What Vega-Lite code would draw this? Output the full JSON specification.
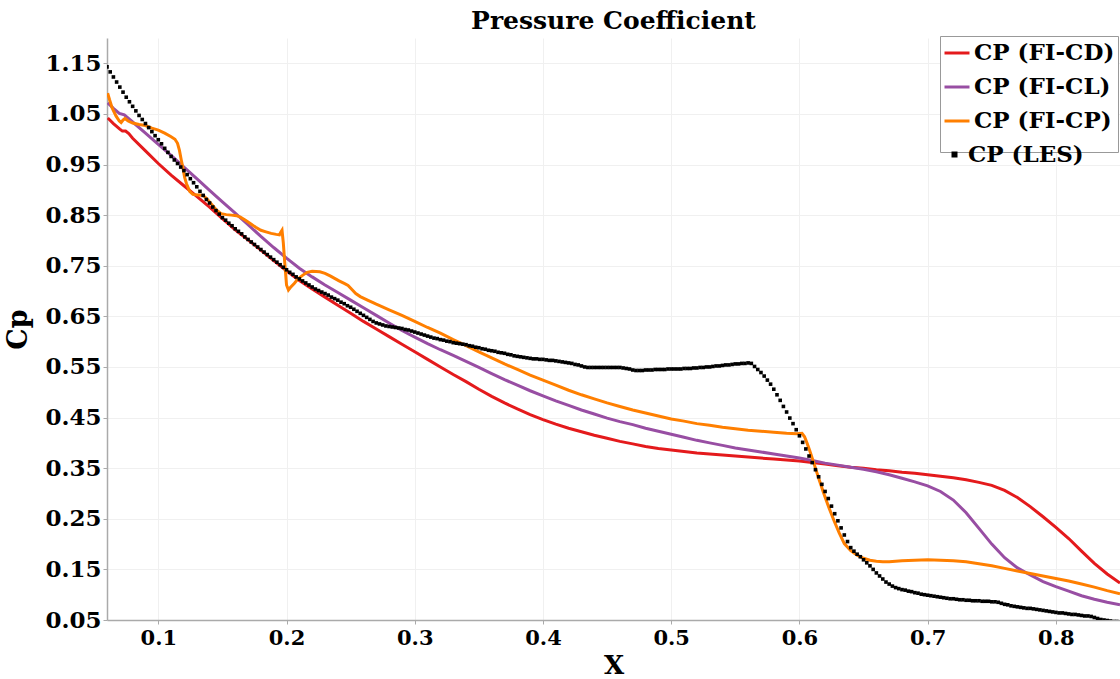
{
"$schema":"https://vega.github.io/schema/vega-lite/v6.json",
"width":1013,"height":582,
"autosize":"none",
"padding":{"left":107,"top":38,"right":0,"bottom":59},
"background":"white",
"title":{"text":"Pressure Coefficient","font":"DejaVu Serif","fontSize":25,"fontWeight":"bold","color":"black","anchor":"middle","offset":2},
"datasets":{
"fi":[
{"series":"CP (FI-CD)","x":0.0606,"cp":1.042},{"series":"CP (FI-CD)","x":0.065,"cp":1.031},{"series":"CP (FI-CD)","x":0.07,"cp":1.020},{"series":"CP (FI-CD)","x":0.072,"cp":1.016},{"series":"CP (FI-CD)","x":0.0745,"cp":1.016},{"series":"CP (FI-CD)","x":0.077,"cp":1.011},{"series":"CP (FI-CD)","x":0.08,"cp":1.002},{"series":"CP (FI-CD)","x":0.09,"cp":0.977},{"series":"CP (FI-CD)","x":0.10,"cp":0.952},{"series":"CP (FI-CD)","x":0.11,"cp":0.929},{"series":"CP (FI-CD)","x":0.12,"cp":0.908},{"series":"CP (FI-CD)","x":0.13,"cp":0.887},{"series":"CP (FI-CD)","x":0.14,"cp":0.866},{"series":"CP (FI-CD)","x":0.15,"cp":0.843},{"series":"CP (FI-CD)","x":0.16,"cp":0.821},{"series":"CP (FI-CD)","x":0.17,"cp":0.801},{"series":"CP (FI-CD)","x":0.18,"cp":0.781},{"series":"CP (FI-CD)","x":0.19,"cp":0.760},{"series":"CP (FI-CD)","x":0.20,"cp":0.740},{"series":"CP (FI-CD)","x":0.21,"cp":0.721},{"series":"CP (FI-CD)","x":0.22,"cp":0.704},{"series":"CP (FI-CD)","x":0.23,"cp":0.688},{"series":"CP (FI-CD)","x":0.24,"cp":0.672},{"series":"CP (FI-CD)","x":0.25,"cp":0.656},{"series":"CP (FI-CD)","x":0.26,"cp":0.640},{"series":"CP (FI-CD)","x":0.27,"cp":0.625},{"series":"CP (FI-CD)","x":0.28,"cp":0.610},{"series":"CP (FI-CD)","x":0.29,"cp":0.595},{"series":"CP (FI-CD)","x":0.30,"cp":0.580},{"series":"CP (FI-CD)","x":0.31,"cp":0.565},{"series":"CP (FI-CD)","x":0.32,"cp":0.550},{"series":"CP (FI-CD)","x":0.33,"cp":0.535},{"series":"CP (FI-CD)","x":0.34,"cp":0.521},{"series":"CP (FI-CD)","x":0.35,"cp":0.506},{"series":"CP (FI-CD)","x":0.36,"cp":0.492},{"series":"CP (FI-CD)","x":0.37,"cp":0.479},{"series":"CP (FI-CD)","x":0.38,"cp":0.467},{"series":"CP (FI-CD)","x":0.39,"cp":0.456},{"series":"CP (FI-CD)","x":0.40,"cp":0.446},{"series":"CP (FI-CD)","x":0.41,"cp":0.437},{"series":"CP (FI-CD)","x":0.42,"cp":0.429},{"series":"CP (FI-CD)","x":0.43,"cp":0.422},{"series":"CP (FI-CD)","x":0.44,"cp":0.415},{"series":"CP (FI-CD)","x":0.45,"cp":0.409},{"series":"CP (FI-CD)","x":0.46,"cp":0.403},{"series":"CP (FI-CD)","x":0.47,"cp":0.398},{"series":"CP (FI-CD)","x":0.48,"cp":0.393},{"series":"CP (FI-CD)","x":0.49,"cp":0.389},{"series":"CP (FI-CD)","x":0.50,"cp":0.386},{"series":"CP (FI-CD)","x":0.51,"cp":0.383},{"series":"CP (FI-CD)","x":0.52,"cp":0.380},{"series":"CP (FI-CD)","x":0.53,"cp":0.378},{"series":"CP (FI-CD)","x":0.54,"cp":0.376},{"series":"CP (FI-CD)","x":0.55,"cp":0.374},{"series":"CP (FI-CD)","x":0.56,"cp":0.372},{"series":"CP (FI-CD)","x":0.57,"cp":0.370},{"series":"CP (FI-CD)","x":0.58,"cp":0.368},{"series":"CP (FI-CD)","x":0.59,"cp":0.366},{"series":"CP (FI-CD)","x":0.60,"cp":0.364},{"series":"CP (FI-CD)","x":0.61,"cp":0.361},{"series":"CP (FI-CD)","x":0.62,"cp":0.358},{"series":"CP (FI-CD)","x":0.63,"cp":0.355},{"series":"CP (FI-CD)","x":0.64,"cp":0.352},{"series":"CP (FI-CD)","x":0.65,"cp":0.350},{"series":"CP (FI-CD)","x":0.66,"cp":0.347},{"series":"CP (FI-CD)","x":0.67,"cp":0.345},{"series":"CP (FI-CD)","x":0.68,"cp":0.342},{"series":"CP (FI-CD)","x":0.69,"cp":0.340},{"series":"CP (FI-CD)","x":0.70,"cp":0.337},{"series":"CP (FI-CD)","x":0.71,"cp":0.334},{"series":"CP (FI-CD)","x":0.72,"cp":0.331},{"series":"CP (FI-CD)","x":0.73,"cp":0.327},{"series":"CP (FI-CD)","x":0.74,"cp":0.322},{"series":"CP (FI-CD)","x":0.75,"cp":0.316},{"series":"CP (FI-CD)","x":0.76,"cp":0.306},{"series":"CP (FI-CD)","x":0.77,"cp":0.292},{"series":"CP (FI-CD)","x":0.78,"cp":0.274},{"series":"CP (FI-CD)","x":0.79,"cp":0.254},{"series":"CP (FI-CD)","x":0.80,"cp":0.233},{"series":"CP (FI-CD)","x":0.81,"cp":0.211},{"series":"CP (FI-CD)","x":0.82,"cp":0.186},{"series":"CP (FI-CD)","x":0.83,"cp":0.162},{"series":"CP (FI-CD)","x":0.84,"cp":0.141},{"series":"CP (FI-CD)","x":0.85,"cp":0.123},
{"series":"CP (FI-CL)","x":0.0606,"cp":1.072},{"series":"CP (FI-CL)","x":0.065,"cp":1.061},{"series":"CP (FI-CL)","x":0.0696,"cp":1.051},{"series":"CP (FI-CL)","x":0.0735,"cp":1.048},{"series":"CP (FI-CL)","x":0.08,"cp":1.034},{"series":"CP (FI-CL)","x":0.09,"cp":1.012},{"series":"CP (FI-CL)","x":0.10,"cp":0.990},{"series":"CP (FI-CL)","x":0.11,"cp":0.968},{"series":"CP (FI-CL)","x":0.12,"cp":0.945},{"series":"CP (FI-CL)","x":0.13,"cp":0.922},{"series":"CP (FI-CL)","x":0.14,"cp":0.899},{"series":"CP (FI-CL)","x":0.15,"cp":0.876},{"series":"CP (FI-CL)","x":0.16,"cp":0.854},{"series":"CP (FI-CL)","x":0.17,"cp":0.831},{"series":"CP (FI-CL)","x":0.18,"cp":0.808},{"series":"CP (FI-CL)","x":0.19,"cp":0.786},{"series":"CP (FI-CL)","x":0.20,"cp":0.765},{"series":"CP (FI-CL)","x":0.21,"cp":0.745},{"series":"CP (FI-CL)","x":0.22,"cp":0.728},{"series":"CP (FI-CL)","x":0.23,"cp":0.712},{"series":"CP (FI-CL)","x":0.24,"cp":0.697},{"series":"CP (FI-CL)","x":0.25,"cp":0.682},{"series":"CP (FI-CL)","x":0.26,"cp":0.667},{"series":"CP (FI-CL)","x":0.27,"cp":0.652},{"series":"CP (FI-CL)","x":0.28,"cp":0.637},{"series":"CP (FI-CL)","x":0.29,"cp":0.622},{"series":"CP (FI-CL)","x":0.30,"cp":0.609},{"series":"CP (FI-CL)","x":0.31,"cp":0.596},{"series":"CP (FI-CL)","x":0.32,"cp":0.584},{"series":"CP (FI-CL)","x":0.33,"cp":0.573},{"series":"CP (FI-CL)","x":0.34,"cp":0.561},{"series":"CP (FI-CL)","x":0.35,"cp":0.549},{"series":"CP (FI-CL)","x":0.36,"cp":0.537},{"series":"CP (FI-CL)","x":0.37,"cp":0.525},{"series":"CP (FI-CL)","x":0.38,"cp":0.514},{"series":"CP (FI-CL)","x":0.39,"cp":0.503},{"series":"CP (FI-CL)","x":0.40,"cp":0.493},{"series":"CP (FI-CL)","x":0.41,"cp":0.483},{"series":"CP (FI-CL)","x":0.42,"cp":0.474},{"series":"CP (FI-CL)","x":0.43,"cp":0.465},{"series":"CP (FI-CL)","x":0.44,"cp":0.457},{"series":"CP (FI-CL)","x":0.45,"cp":0.449},{"series":"CP (FI-CL)","x":0.46,"cp":0.442},{"series":"CP (FI-CL)","x":0.47,"cp":0.436},{"series":"CP (FI-CL)","x":0.48,"cp":0.429},{"series":"CP (FI-CL)","x":0.49,"cp":0.423},{"series":"CP (FI-CL)","x":0.50,"cp":0.417},{"series":"CP (FI-CL)","x":0.51,"cp":0.411},{"series":"CP (FI-CL)","x":0.52,"cp":0.405},{"series":"CP (FI-CL)","x":0.53,"cp":0.400},{"series":"CP (FI-CL)","x":0.54,"cp":0.395},{"series":"CP (FI-CL)","x":0.55,"cp":0.390},{"series":"CP (FI-CL)","x":0.56,"cp":0.386},{"series":"CP (FI-CL)","x":0.57,"cp":0.382},{"series":"CP (FI-CL)","x":0.58,"cp":0.378},{"series":"CP (FI-CL)","x":0.59,"cp":0.374},{"series":"CP (FI-CL)","x":0.60,"cp":0.370},{"series":"CP (FI-CL)","x":0.61,"cp":0.365},{"series":"CP (FI-CL)","x":0.62,"cp":0.360},{"series":"CP (FI-CL)","x":0.63,"cp":0.356},{"series":"CP (FI-CL)","x":0.64,"cp":0.352},{"series":"CP (FI-CL)","x":0.65,"cp":0.348},{"series":"CP (FI-CL)","x":0.66,"cp":0.343},{"series":"CP (FI-CL)","x":0.67,"cp":0.337},{"series":"CP (FI-CL)","x":0.68,"cp":0.330},{"series":"CP (FI-CL)","x":0.69,"cp":0.323},{"series":"CP (FI-CL)","x":0.70,"cp":0.315},{"series":"CP (FI-CL)","x":0.71,"cp":0.304},{"series":"CP (FI-CL)","x":0.72,"cp":0.287},{"series":"CP (FI-CL)","x":0.73,"cp":0.262},{"series":"CP (FI-CL)","x":0.74,"cp":0.231},{"series":"CP (FI-CL)","x":0.75,"cp":0.200},{"series":"CP (FI-CL)","x":0.76,"cp":0.173},{"series":"CP (FI-CL)","x":0.77,"cp":0.153},{"series":"CP (FI-CL)","x":0.78,"cp":0.139},{"series":"CP (FI-CL)","x":0.79,"cp":0.126},{"series":"CP (FI-CL)","x":0.80,"cp":0.116},{"series":"CP (FI-CL)","x":0.81,"cp":0.107},{"series":"CP (FI-CL)","x":0.82,"cp":0.098},{"series":"CP (FI-CL)","x":0.83,"cp":0.091},{"series":"CP (FI-CL)","x":0.84,"cp":0.085},{"series":"CP (FI-CL)","x":0.85,"cp":0.080},
{"series":"CP (FI-CP)","x":0.0605,"cp":1.091},{"series":"CP (FI-CP)","x":0.062,"cp":1.078},{"series":"CP (FI-CP)","x":0.064,"cp":1.062},{"series":"CP (FI-CP)","x":0.067,"cp":1.046},{"series":"CP (FI-CP)","x":0.0696,"cp":1.036},{"series":"CP (FI-CP)","x":0.071,"cp":1.033},{"series":"CP (FI-CP)","x":0.0725,"cp":1.038},{"series":"CP (FI-CP)","x":0.074,"cp":1.041},{"series":"CP (FI-CP)","x":0.0765,"cp":1.036},{"series":"CP (FI-CP)","x":0.08,"cp":1.032},{"series":"CP (FI-CP)","x":0.085,"cp":1.029},{"series":"CP (FI-CP)","x":0.09,"cp":1.027},{"series":"CP (FI-CP)","x":0.095,"cp":1.022},{"series":"CP (FI-CP)","x":0.10,"cp":1.018},{"series":"CP (FI-CP)","x":0.105,"cp":1.012},{"series":"CP (FI-CP)","x":0.11,"cp":1.005},{"series":"CP (FI-CP)","x":0.113,"cp":1.0},{"series":"CP (FI-CP)","x":0.115,"cp":0.992},{"series":"CP (FI-CP)","x":0.1165,"cp":0.978},{"series":"CP (FI-CP)","x":0.118,"cp":0.958},{"series":"CP (FI-CP)","x":0.119,"cp":0.946},{"series":"CP (FI-CP)","x":0.1205,"cp":0.925},{"series":"CP (FI-CP)","x":0.122,"cp":0.912},{"series":"CP (FI-CP)","x":0.1245,"cp":0.897},{"series":"CP (FI-CP)","x":0.127,"cp":0.891},{"series":"CP (FI-CP)","x":0.131,"cp":0.890},{"series":"CP (FI-CP)","x":0.135,"cp":0.889},{"series":"CP (FI-CP)","x":0.138,"cp":0.882},{"series":"CP (FI-CP)","x":0.141,"cp":0.873},{"series":"CP (FI-CP)","x":0.145,"cp":0.861},{"series":"CP (FI-CP)","x":0.149,"cp":0.853},{"series":"CP (FI-CP)","x":0.153,"cp":0.851},{"series":"CP (FI-CP)","x":0.157,"cp":0.850},{"series":"CP (FI-CP)","x":0.161,"cp":0.849},{"series":"CP (FI-CP)","x":0.164,"cp":0.846},{"series":"CP (FI-CP)","x":0.168,"cp":0.840},{"series":"CP (FI-CP)","x":0.172,"cp":0.833},{"series":"CP (FI-CP)","x":0.176,"cp":0.826},{"series":"CP (FI-CP)","x":0.18,"cp":0.820},{"series":"CP (FI-CP)","x":0.184,"cp":0.817},{"series":"CP (FI-CP)","x":0.188,"cp":0.814},{"series":"CP (FI-CP)","x":0.192,"cp":0.812},{"series":"CP (FI-CP)","x":0.1945,"cp":0.811},{"series":"CP (FI-CP)","x":0.1955,"cp":0.816},{"series":"CP (FI-CP)","x":0.1965,"cp":0.820},{"series":"CP (FI-CP)","x":0.1975,"cp":0.795},{"series":"CP (FI-CP)","x":0.1985,"cp":0.760},{"series":"CP (FI-CP)","x":0.2,"cp":0.712},{"series":"CP (FI-CP)","x":0.2015,"cp":0.702},{"series":"CP (FI-CP)","x":0.203,"cp":0.707},{"series":"CP (FI-CP)","x":0.206,"cp":0.715},{"series":"CP (FI-CP)","x":0.209,"cp":0.724},{"series":"CP (FI-CP)","x":0.2125,"cp":0.731},{"series":"CP (FI-CP)","x":0.216,"cp":0.737},{"series":"CP (FI-CP)","x":0.22,"cp":0.739},{"series":"CP (FI-CP)","x":0.226,"cp":0.738},{"series":"CP (FI-CP)","x":0.23,"cp":0.735},{"series":"CP (FI-CP)","x":0.234,"cp":0.730},{"series":"CP (FI-CP)","x":0.2375,"cp":0.725},{"series":"CP (FI-CP)","x":0.241,"cp":0.720},{"series":"CP (FI-CP)","x":0.245,"cp":0.715},{"series":"CP (FI-CP)","x":0.248,"cp":0.711},{"series":"CP (FI-CP)","x":0.251,"cp":0.703},{"series":"CP (FI-CP)","x":0.254,"cp":0.695},{"series":"CP (FI-CP)","x":0.2575,"cp":0.689},{"series":"CP (FI-CP)","x":0.2632,"cp":0.682},{"series":"CP (FI-CP)","x":0.27,"cp":0.674},{"series":"CP (FI-CP)","x":0.28,"cp":0.663},{"series":"CP (FI-CP)","x":0.29,"cp":0.652},{"series":"CP (FI-CP)","x":0.30,"cp":0.640},{"series":"CP (FI-CP)","x":0.31,"cp":0.628},{"series":"CP (FI-CP)","x":0.32,"cp":0.617},{"series":"CP (FI-CP)","x":0.33,"cp":0.604},{"series":"CP (FI-CP)","x":0.34,"cp":0.592},{"series":"CP (FI-CP)","x":0.35,"cp":0.580},{"series":"CP (FI-CP)","x":0.36,"cp":0.568},{"series":"CP (FI-CP)","x":0.37,"cp":0.556},{"series":"CP (FI-CP)","x":0.38,"cp":0.545},{"series":"CP (FI-CP)","x":0.39,"cp":0.534},{"series":"CP (FI-CP)","x":0.40,"cp":0.524},{"series":"CP (FI-CP)","x":0.41,"cp":0.514},{"series":"CP (FI-CP)","x":0.42,"cp":0.504},{"series":"CP (FI-CP)","x":0.43,"cp":0.495},{"series":"CP (FI-CP)","x":0.44,"cp":0.487},{"series":"CP (FI-CP)","x":0.45,"cp":0.479},{"series":"CP (FI-CP)","x":0.46,"cp":0.472},{"series":"CP (FI-CP)","x":0.47,"cp":0.465},{"series":"CP (FI-CP)","x":0.48,"cp":0.459},{"series":"CP (FI-CP)","x":0.49,"cp":0.453},{"series":"CP (FI-CP)","x":0.50,"cp":0.447},{"series":"CP (FI-CP)","x":0.51,"cp":0.443},{"series":"CP (FI-CP)","x":0.52,"cp":0.438},{"series":"CP (FI-CP)","x":0.53,"cp":0.435},{"series":"CP (FI-CP)","x":0.54,"cp":0.431},{"series":"CP (FI-CP)","x":0.55,"cp":0.428},{"series":"CP (FI-CP)","x":0.56,"cp":0.425},{"series":"CP (FI-CP)","x":0.57,"cp":0.423},{"series":"CP (FI-CP)","x":0.58,"cp":0.421},{"series":"CP (FI-CP)","x":0.59,"cp":0.419},{"series":"CP (FI-CP)","x":0.598,"cp":0.418},{"series":"CP (FI-CP)","x":0.602,"cp":0.419},{"series":"CP (FI-CP)","x":0.604,"cp":0.412},{"series":"CP (FI-CP)","x":0.606,"cp":0.399},{"series":"CP (FI-CP)","x":0.608,"cp":0.385},{"series":"CP (FI-CP)","x":0.611,"cp":0.362},{"series":"CP (FI-CP)","x":0.615,"cp":0.330},{"series":"CP (FI-CP)","x":0.619,"cp":0.300},{"series":"CP (FI-CP)","x":0.623,"cp":0.272},{"series":"CP (FI-CP)","x":0.627,"cp":0.246},{"series":"CP (FI-CP)","x":0.631,"cp":0.222},{"series":"CP (FI-CP)","x":0.635,"cp":0.201},{"series":"CP (FI-CP)","x":0.64,"cp":0.187},{"series":"CP (FI-CP)","x":0.645,"cp":0.178},{"series":"CP (FI-CP)","x":0.65,"cp":0.172},{"series":"CP (FI-CP)","x":0.655,"cp":0.168},{"series":"CP (FI-CP)","x":0.66,"cp":0.166},{"series":"CP (FI-CP)","x":0.665,"cp":0.165},{"series":"CP (FI-CP)","x":0.67,"cp":0.165},{"series":"CP (FI-CP)","x":0.68,"cp":0.167},{"series":"CP (FI-CP)","x":0.69,"cp":0.168},{"series":"CP (FI-CP)","x":0.70,"cp":0.169},{"series":"CP (FI-CP)","x":0.71,"cp":0.168},{"series":"CP (FI-CP)","x":0.72,"cp":0.167},{"series":"CP (FI-CP)","x":0.73,"cp":0.165},{"series":"CP (FI-CP)","x":0.74,"cp":0.161},{"series":"CP (FI-CP)","x":0.75,"cp":0.157},{"series":"CP (FI-CP)","x":0.76,"cp":0.152},{"series":"CP (FI-CP)","x":0.77,"cp":0.147},{"series":"CP (FI-CP)","x":0.78,"cp":0.142},{"series":"CP (FI-CP)","x":0.79,"cp":0.137},{"series":"CP (FI-CP)","x":0.80,"cp":0.132},{"series":"CP (FI-CP)","x":0.81,"cp":0.127},{"series":"CP (FI-CP)","x":0.82,"cp":0.121},{"series":"CP (FI-CP)","x":0.83,"cp":0.115},{"series":"CP (FI-CP)","x":0.84,"cp":0.108},{"series":"CP (FI-CP)","x":0.85,"cp":0.102}
],
"les":[
{"x":0.06,"cp":1.143},{"x":0.0625,"cp":1.133},{"x":0.065,"cp":1.123},{"x":0.0675,"cp":1.113},{"x":0.07,"cp":1.103},{"x":0.0725,"cp":1.093},{"x":0.075,"cp":1.083},{"x":0.0775,"cp":1.074},{"x":0.08,"cp":1.065},{"x":0.0825,"cp":1.056},{"x":0.085,"cp":1.047},{"x":0.0875,"cp":1.039},{"x":0.09,"cp":1.031},{"x":0.0925,"cp":1.023},{"x":0.095,"cp":1.015},{"x":0.0975,"cp":1.007},{"x":0.1,"cp":0.999},{"x":0.1025,"cp":0.991},{"x":0.105,"cp":0.982},{"x":0.1075,"cp":0.974},{"x":0.11,"cp":0.966},{"x":0.1125,"cp":0.959},{"x":0.115,"cp":0.952},{"x":0.1175,"cp":0.945},{"x":0.12,"cp":0.938},{"x":0.1225,"cp":0.930},{"x":0.125,"cp":0.922},{"x":0.1275,"cp":0.914},{"x":0.13,"cp":0.906},{"x":0.1325,"cp":0.897},{"x":0.135,"cp":0.889},{"x":0.1375,"cp":0.881},{"x":0.14,"cp":0.874},{"x":0.1425,"cp":0.866},{"x":0.145,"cp":0.859},{"x":0.1475,"cp":0.852},{"x":0.15,"cp":0.845},{"x":0.1525,"cp":0.840},{"x":0.155,"cp":0.834},{"x":0.1575,"cp":0.829},{"x":0.16,"cp":0.823},{"x":0.1625,"cp":0.818},{"x":0.165,"cp":0.813},{"x":0.1675,"cp":0.807},{"x":0.17,"cp":0.802},{"x":0.1725,"cp":0.797},{"x":0.175,"cp":0.792},{"x":0.1775,"cp":0.787},{"x":0.18,"cp":0.782},{"x":0.1825,"cp":0.777},{"x":0.185,"cp":0.772},{"x":0.1875,"cp":0.767},{"x":0.19,"cp":0.762},{"x":0.1925,"cp":0.757},{"x":0.195,"cp":0.752},{"x":0.1975,"cp":0.747},{"x":0.2,"cp":0.742},{"x":0.2025,"cp":0.737},{"x":0.205,"cp":0.733},{"x":0.2075,"cp":0.728},{"x":0.21,"cp":0.724},{"x":0.2125,"cp":0.720},{"x":0.215,"cp":0.716},{"x":0.2175,"cp":0.712},{"x":0.22,"cp":0.708},{"x":0.2225,"cp":0.704},{"x":0.225,"cp":0.701},{"x":0.2275,"cp":0.698},{"x":0.23,"cp":0.695},{"x":0.2325,"cp":0.692},{"x":0.235,"cp":0.688},{"x":0.2375,"cp":0.685},{"x":0.24,"cp":0.682},{"x":0.2425,"cp":0.678},{"x":0.245,"cp":0.675},{"x":0.2475,"cp":0.671},{"x":0.25,"cp":0.668},{"x":0.2525,"cp":0.664},{"x":0.255,"cp":0.660},{"x":0.2575,"cp":0.656},{"x":0.26,"cp":0.652},{"x":0.2625,"cp":0.648},{"x":0.265,"cp":0.644},{"x":0.2675,"cp":0.640},{"x":0.27,"cp":0.637},{"x":0.2725,"cp":0.635},{"x":0.275,"cp":0.633},{"x":0.2775,"cp":0.631},{"x":0.28,"cp":0.630},{"x":0.2825,"cp":0.629},{"x":0.285,"cp":0.628},{"x":0.2875,"cp":0.627},{"x":0.29,"cp":0.626},{"x":0.2925,"cp":0.624},{"x":0.295,"cp":0.623},{"x":0.2975,"cp":0.621},{"x":0.3,"cp":0.619},{"x":0.3025,"cp":0.617},{"x":0.305,"cp":0.615},{"x":0.3075,"cp":0.613},{"x":0.31,"cp":0.611},{"x":0.3125,"cp":0.609},{"x":0.315,"cp":0.607},{"x":0.3175,"cp":0.606},{"x":0.32,"cp":0.604},{"x":0.3225,"cp":0.603},{"x":0.325,"cp":0.601},{"x":0.3275,"cp":0.600},{"x":0.33,"cp":0.598},{"x":0.3325,"cp":0.597},{"x":0.335,"cp":0.596},{"x":0.3375,"cp":0.595},{"x":0.34,"cp":0.594},{"x":0.3425,"cp":0.592},{"x":0.345,"cp":0.591},{"x":0.3475,"cp":0.589},{"x":0.35,"cp":0.588},{"x":0.3525,"cp":0.586},{"x":0.355,"cp":0.585},{"x":0.3575,"cp":0.583},{"x":0.36,"cp":0.582},{"x":0.3625,"cp":0.581},{"x":0.365,"cp":0.579},{"x":0.3675,"cp":0.578},{"x":0.37,"cp":0.577},{"x":0.3725,"cp":0.575},{"x":0.375,"cp":0.574},{"x":0.3775,"cp":0.572},{"x":0.38,"cp":0.571},{"x":0.3825,"cp":0.570},{"x":0.385,"cp":0.569},{"x":0.3875,"cp":0.568},{"x":0.39,"cp":0.567},{"x":0.3925,"cp":0.566},{"x":0.395,"cp":0.566},{"x":0.3975,"cp":0.565},{"x":0.4,"cp":0.565},{"x":0.4025,"cp":0.564},{"x":0.405,"cp":0.563},{"x":0.4075,"cp":0.563},{"x":0.41,"cp":0.562},{"x":0.4125,"cp":0.561},{"x":0.415,"cp":0.560},{"x":0.4175,"cp":0.559},{"x":0.42,"cp":0.558},{"x":0.4225,"cp":0.557},{"x":0.425,"cp":0.555},{"x":0.4275,"cp":0.554},{"x":0.43,"cp":0.552},{"x":0.4325,"cp":0.550},{"x":0.435,"cp":0.549},{"x":0.4375,"cp":0.549},{"x":0.44,"cp":0.549},{"x":0.4425,"cp":0.549},{"x":0.445,"cp":0.549},{"x":0.4475,"cp":0.549},{"x":0.45,"cp":0.549},{"x":0.4525,"cp":0.549},{"x":0.455,"cp":0.549},{"x":0.4575,"cp":0.549},{"x":0.46,"cp":0.549},{"x":0.4625,"cp":0.548},{"x":0.465,"cp":0.547},{"x":0.4675,"cp":0.546},{"x":0.47,"cp":0.544},{"x":0.4725,"cp":0.543},{"x":0.475,"cp":0.543},{"x":0.4775,"cp":0.543},{"x":0.48,"cp":0.544},{"x":0.4825,"cp":0.544},{"x":0.485,"cp":0.544},{"x":0.4875,"cp":0.545},{"x":0.49,"cp":0.545},{"x":0.4925,"cp":0.545},{"x":0.495,"cp":0.545},{"x":0.4975,"cp":0.546},{"x":0.5,"cp":0.546},{"x":0.5025,"cp":0.546},{"x":0.505,"cp":0.546},{"x":0.5075,"cp":0.546},{"x":0.51,"cp":0.547},{"x":0.5125,"cp":0.547},{"x":0.515,"cp":0.547},{"x":0.5175,"cp":0.548},{"x":0.52,"cp":0.548},{"x":0.5225,"cp":0.549},{"x":0.525,"cp":0.549},{"x":0.5275,"cp":0.550},{"x":0.53,"cp":0.550},{"x":0.5325,"cp":0.551},{"x":0.535,"cp":0.552},{"x":0.5375,"cp":0.552},{"x":0.54,"cp":0.553},{"x":0.5425,"cp":0.554},{"x":0.545,"cp":0.554},{"x":0.5475,"cp":0.555},{"x":0.55,"cp":0.556},{"x":0.5525,"cp":0.556},{"x":0.555,"cp":0.557},{"x":0.5575,"cp":0.557},{"x":0.56,"cp":0.558},{"x":0.5625,"cp":0.557},{"x":0.565,"cp":0.551},{"x":0.5675,"cp":0.545},{"x":0.57,"cp":0.539},{"x":0.5725,"cp":0.532},{"x":0.575,"cp":0.524},{"x":0.5775,"cp":0.516},{"x":0.58,"cp":0.506},{"x":0.5825,"cp":0.495},{"x":0.585,"cp":0.484},{"x":0.5875,"cp":0.472},{"x":0.59,"cp":0.461},{"x":0.5925,"cp":0.449},{"x":0.595,"cp":0.438},{"x":0.5975,"cp":0.426},{"x":0.6,"cp":0.414},{"x":0.6025,"cp":0.401},{"x":0.605,"cp":0.388},{"x":0.6075,"cp":0.374},{"x":0.61,"cp":0.361},{"x":0.6125,"cp":0.347},{"x":0.615,"cp":0.333},{"x":0.6175,"cp":0.318},{"x":0.62,"cp":0.304},{"x":0.6225,"cp":0.290},{"x":0.625,"cp":0.275},{"x":0.6275,"cp":0.260},{"x":0.63,"cp":0.246},{"x":0.6325,"cp":0.232},{"x":0.635,"cp":0.218},{"x":0.6375,"cp":0.205},{"x":0.64,"cp":0.193},{"x":0.6425,"cp":0.186},{"x":0.645,"cp":0.180},{"x":0.6475,"cp":0.175},{"x":0.65,"cp":0.169},{"x":0.6525,"cp":0.163},{"x":0.655,"cp":0.157},{"x":0.6575,"cp":0.150},{"x":0.66,"cp":0.143},{"x":0.6625,"cp":0.137},{"x":0.665,"cp":0.131},{"x":0.6675,"cp":0.125},{"x":0.67,"cp":0.121},{"x":0.6725,"cp":0.117},{"x":0.675,"cp":0.114},{"x":0.6775,"cp":0.112},{"x":0.68,"cp":0.110},{"x":0.6825,"cp":0.109},{"x":0.685,"cp":0.107},{"x":0.6875,"cp":0.106},{"x":0.69,"cp":0.104},{"x":0.6925,"cp":0.103},{"x":0.695,"cp":0.101},{"x":0.6975,"cp":0.100},{"x":0.7,"cp":0.099},{"x":0.7025,"cp":0.098},{"x":0.705,"cp":0.097},{"x":0.7075,"cp":0.096},{"x":0.71,"cp":0.095},{"x":0.7125,"cp":0.094},{"x":0.715,"cp":0.093},{"x":0.7175,"cp":0.092},{"x":0.72,"cp":0.092},{"x":0.7225,"cp":0.091},{"x":0.725,"cp":0.090},{"x":0.7275,"cp":0.090},{"x":0.73,"cp":0.089},{"x":0.7325,"cp":0.089},{"x":0.735,"cp":0.088},{"x":0.7375,"cp":0.088},{"x":0.74,"cp":0.088},{"x":0.7425,"cp":0.087},{"x":0.745,"cp":0.087},{"x":0.7475,"cp":0.087},{"x":0.75,"cp":0.086},{"x":0.7525,"cp":0.086},{"x":0.755,"cp":0.085},{"x":0.7575,"cp":0.083},{"x":0.76,"cp":0.081},{"x":0.7625,"cp":0.080},{"x":0.765,"cp":0.078},{"x":0.7675,"cp":0.077},{"x":0.77,"cp":0.076},{"x":0.7725,"cp":0.075},{"x":0.775,"cp":0.074},{"x":0.7775,"cp":0.073},{"x":0.78,"cp":0.073},{"x":0.7825,"cp":0.072},{"x":0.785,"cp":0.071},{"x":0.7875,"cp":0.070},{"x":0.79,"cp":0.069},{"x":0.7925,"cp":0.068},{"x":0.795,"cp":0.067},{"x":0.7975,"cp":0.066},{"x":0.8,"cp":0.065},{"x":0.8025,"cp":0.064},{"x":0.805,"cp":0.064},{"x":0.8075,"cp":0.063},{"x":0.81,"cp":0.062},{"x":0.8125,"cp":0.061},{"x":0.815,"cp":0.061},{"x":0.8175,"cp":0.060},{"x":0.82,"cp":0.059},{"x":0.8225,"cp":0.058},{"x":0.825,"cp":0.058},{"x":0.8275,"cp":0.057},{"x":0.83,"cp":0.055},{"x":0.8325,"cp":0.053},{"x":0.835,"cp":0.051},{"x":0.8375,"cp":0.050},{"x":0.84,"cp":0.049},{"x":0.8425,"cp":0.048},{"x":0.845,"cp":0.047},{"x":0.8475,"cp":0.047},{"x":0.85,"cp":0.046}
]
},
"layer":[
{"data":{"name":"fi"},
 "mark":{"type":"line","strokeWidth":3,"clip":true},
 "encoding":{
  "x":{"field":"x","type":"quantitative","scale":{"domain":[0.06,0.85],"nice":false,"zero":false},
       "axis":{"title":"X","values":[0.1,0.2,0.3,0.4,0.5,0.6,0.7,0.8],"format":".1f"}},
  "y":{"field":"cp","type":"quantitative","scale":{"domain":[0.05,1.2],"nice":false,"zero":false},
       "axis":{"title":"Cp","values":[0.05,0.15,0.25,0.35,0.45,0.55,0.65,0.75,0.85,0.95,1.05,1.15],"format":".2f","labelFontSize":23,"labelPadding":2,"titlePadding":12,"titleFontSize":27}},
  "color":{"field":"series","type":"nominal",
     "scale":{"domain":["CP (FI-CD)","CP (FI-CL)","CP (FI-CP)"],"range":["#e41a1c","#984ea3","#ff7f00"]},
     "legend":{"title":" ","titleOrient":"bottom","titleFontSize":17,"titlePadding":0,"orient":"none","legendX":833,"legendY":-2,"padding":3,"rowPadding":8,"symbolType":"stroke","symbolSize":625,"symbolStrokeWidth":3,"labelOffset":3,"strokeColor":"#999999","fillColor":"white"}}
 }},
{"data":{"name":"les"},
 "mark":{"type":"point","filled":true,"size":13,"opacity":1,"clip":true},
 "encoding":{
  "x":{"field":"x","type":"quantitative"},
  "y":{"field":"cp","type":"quantitative"},
  "color":{"value":"#000000"},
  "shape":{"datum":"CP (LES)","scale":{"domain":["CP (LES)"],"range":["square"]},
     "legend":{"title":null,"orient":"none","legendX":833,"legendY":102,"padding":3,"symbolSize":36,"symbolFillColor":"#000000","symbolStrokeWidth":0,"symbolOpacity":1,"labelOffset":2,"strokeColor":"transparent","fillColor":"transparent"}}
 }}
],
"config":{
 "view":{"stroke":null},
 "font":"DejaVu Serif",
 "axis":{"labelFont":"DejaVu Serif","labelFontWeight":"bold","labelColor":"black","labelFontSize":21,"titleFont":"DejaVu Serif","titleFontWeight":"bold","titleColor":"black","titleFontSize":26,"domainColor":"#aaaaaa","domainWidth":1.5,"tickColor":"#aaaaaa","tickSize":4,"labelPadding":3,"gridColor":"#f0f0f0","gridWidth":1},
 "legend":{"labelFont":"DejaVu Serif","labelFontWeight":"bold","labelFontSize":23,"labelColor":"black","labelLimit":400}
}
}
